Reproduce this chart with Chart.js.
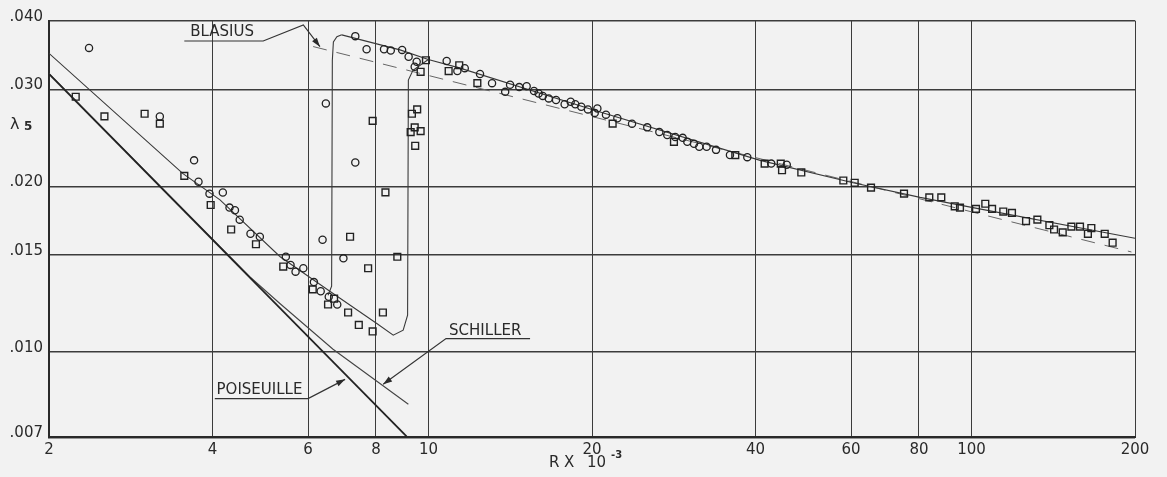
<!DOCTYPE html>
<html>
<head>
<meta charset="utf-8">
<script src="https://cdn.jsdelivr.net/npm/chart.js@4.4.1/dist/chart.umd.min.js"></script>
<style>
  html, body { margin: 0; background: #f2f2f2; }
  canvas { display: block; }
</style>
</head>
<body>
<canvas id="chart" width="1167" height="477"></canvas>
<script>
// tick values (R x 10^-3 and lambda)
const xTicks = [2, 4, 6, 8, 10, 20, 40, 60, 80, 100, 200];
const yTicks = [0.007, 0.010, 0.015, 0.020, 0.030, 0.040];
const yTickLabels = ['.007', '.010', '.015', '.020', '.030', '.040'];

// circles
const circleR = [2.37, 3.20, 3.70, 3.77, 3.95, 4.18, 4.30, 4.40, 4.49, 4.70, 4.89, 5.46, 5.57, 5.69, 5.88, 6.15, 6.33, 6.55, 6.79, 6.38,
  6.97, 7.33, 6.47, 7.33, 7.69, 8.28, 8.52, 8.94, 9.19, 9.51, 9.43, 10.8, 11.3, 11.66, 12.44, 13.09, 13.84, 14.13, 14.69, 15.16,
  15.64, 15.95, 16.23, 16.65, 17.17, 17.81, 18.27, 18.63, 19.11, 19.66, 20.23, 20.46, 21.22, 22.27, 23.70, 25.28, 26.61, 27.52, 28.47, 29.38,
  29.96, 30.82, 31.52, 32.52, 33.84, 35.90, 38.64, 42.77, 45.68];
const circleL = [0.0357, 0.0268, 0.0223, 0.0204, 0.0194, 0.0195, 0.0183, 0.0181, 0.0174, 0.0164, 0.0162, 0.0149, 0.0144, 0.0140, 0.0142, 0.0134, 0.0129, 0.0126, 0.0122, 0.0160,
  0.0148, 0.0221, 0.0283, 0.0375, 0.0355, 0.0355, 0.0353, 0.0354, 0.0344, 0.0337, 0.0330, 0.0338, 0.0324, 0.0328, 0.0320, 0.0308, 0.0297, 0.0306, 0.0303, 0.0304,
  0.0298, 0.0295, 0.0292, 0.0289, 0.0287, 0.0282, 0.0285, 0.0282, 0.0279, 0.0276, 0.0272, 0.0277, 0.0270, 0.0266, 0.0260, 0.0256, 0.0251, 0.0248, 0.0246, 0.0245,
  0.0241, 0.0239, 0.0236, 0.0236, 0.0233, 0.0228, 0.0226, 0.0220, 0.0219];

// squares
const squareR = [2.24, 2.53, 3.00, 3.20, 3.55, 3.97, 4.33, 4.81, 5.40, 6.12, 6.70, 6.53, 7.11, 8.24, 7.44, 7.89, 7.17, 7.74, 8.76, 8.33,
  7.89, 9.53, 9.32, 9.43, 9.27, 9.67, 9.45, 9.89, 9.67, 10.89, 11.39, 12.30, 21.83, 28.31, 36.72, 41.59, 44.53, 44.77, 48.58, 58.06,
  60.93, 65.29, 75.10, 83.60, 87.96, 93.12, 95.22, 101.9, 106.0, 109.1, 114.4, 118.7, 126.0, 132.2, 139.1, 141.9, 147.2, 152.7, 158.4, 163.8,
  166.2, 175.9, 181.9];
const squareL = [0.0291, 0.0268, 0.0271, 0.0260, 0.0209, 0.0185, 0.0167, 0.0157, 0.0143, 0.0130, 0.0125, 0.0122, 0.0118, 0.0118, 0.0112, 0.0109, 0.0162, 0.0142, 0.0149, 0.0195,
  0.0263, 0.0276, 0.0271, 0.0256, 0.0251, 0.0252, 0.0237, 0.0339, 0.0323, 0.0324, 0.0332, 0.0308, 0.0260, 0.0241, 0.0228, 0.0220, 0.0220, 0.0214, 0.0212, 0.0205,
  0.0203, 0.0199, 0.0194, 0.0191, 0.0191, 0.0184, 0.0183, 0.0182, 0.0186, 0.0182, 0.0180, 0.0179, 0.0173, 0.0174, 0.0170, 0.0167, 0.0165, 0.0169, 0.0169, 0.0164,
  0.0168, 0.0164, 0.0158];

// drawn curves
const lamR = [2.00, 3.53, 4.13, 5.33, 6.58, 8.03, 8.61, 8.98, 9.15, 9.18, 9.36, 9.99];
const lamL = [0.0349, 0.0211, 0.0189, 0.0149, 0.0129, 0.01127, 0.01073, 0.01096, 0.01167, 0.0312, 0.0325, 0.0340];
const loopR = [6.53, 6.63, 6.65, 6.68, 6.78, 6.92];
const loopL = [0.01268, 0.01317, 0.0339, 0.0366, 0.0374, 0.0377];
const fitR = [6.92, 8.86, 9.99, 11.43, 20.2, 40.8, 60.5, 80.4, 100.6, 200];
const fitL = [0.0377, 0.0354, 0.0340, 0.0328, 0.0275, 0.0223, 0.0203, 0.0191, 0.0183, 0.0161];
const blasiusR = [6.13, 197];
const blasiusL = [0.0359, 0.0152];
const poiseuilleR = [2.00, 9.11];
const poiseuilleL = [0.0320, 0.00703];
const schillerR = [2.00, 4.69, 5.33, 6.67, 9.18];
const schillerL = [0.0321, 0.01369, 0.01224, 0.01012, 0.00804];

const pts = (xs, ys) => xs.map((x, i) => ({ x: x, y: ys[i] }));

// labels with leader lines, positions in data units
const notes = [
  { text: 'BLASIUS', at: [3.64, 0.0381],
    leader: [[3.55, 0.03674], [4.96, 0.03674], [5.88, 0.03929], [6.31, 0.03588]] },
  { text: 'SCHILLER', at: [10.91, 0.01092],
    leader: [[15.38, 0.01058], [10.77, 0.01058], [8.25, 0.00874]] },
  { text: 'POISEUILLE', at: [4.07, 0.00852],
    leader: [[4.04, 0.00823], [6.00, 0.00823], [7.02, 0.00892]] }
];

const ink = '#2a2a2a';
const font = '"DejaVu Sans", "Liberation Sans", sans-serif';

function arrowHead(ctx, x0, y0, x1, y1) {
  const a = Math.atan2(y1 - y0, x1 - x0), L = 9, W = 3;
  ctx.beginPath();
  ctx.moveTo(x1, y1);
  ctx.lineTo(x1 - L * Math.cos(a) + W * Math.sin(a), y1 - L * Math.sin(a) - W * Math.cos(a));
  ctx.lineTo(x1 - L * Math.cos(a) - W * Math.sin(a), y1 - L * Math.sin(a) + W * Math.cos(a));
  ctx.closePath();
  ctx.fill();
}

const paperPlugin = {
  id: 'paper',
  beforeDraw(chart) {
    const ctx = chart.ctx;
    ctx.save();
    ctx.fillStyle = '#f2f2f2';
    ctx.fillRect(0, 0, chart.width, chart.height);
    ctx.restore();
  },
  afterDraw(chart) {
    const ctx = chart.ctx;
    const xs = chart.scales.x, ys = chart.scales.y;
    ctx.save();
    ctx.fillStyle = ink;
    ctx.strokeStyle = '#333';
    ctx.lineWidth = 1.2;
    ctx.textBaseline = 'middle';
    ctx.font = '15px ' + font;
    notes.forEach(n => {
      ctx.textAlign = 'left';
      ctx.fillText(n.text, xs.getPixelForValue(n.at[0]), ys.getPixelForValue(n.at[1]));
      const p = n.leader.map(q => [xs.getPixelForValue(q[0]), ys.getPixelForValue(q[1])]);
      ctx.beginPath();
      p.forEach((q, i) => i ? ctx.lineTo(q[0], q[1]) : ctx.moveTo(q[0], q[1]));
      ctx.stroke();
      const a = p[p.length - 2], b = p[p.length - 1];
      arrowHead(ctx, a[0], a[1], b[0], b[1]);
    });

    // axis titles
    ctx.font = '16px ' + font;
    ctx.fillText('\u03bb', 10, 125);
    ctx.font = 'bold 12px ' + font;
    ctx.fillText('5', 24, 127);
    ctx.font = '15px ' + font;
    ctx.fillText('R', 549, 463);
    ctx.fillText('X', 564, 463);
    ctx.fillText('10', 587, 463);
    ctx.font = 'bold 10px ' + font;
    ctx.fillText('-3', 611, 455);
    ctx.restore();
  }
};

new Chart(document.getElementById('chart'), {
  type: 'scatter',
  data: {
    datasets: [
      { data: pts(circleR, circleL), pointStyle: 'circle', pointRadius: 3.6, borderWidth: 1.3,
        borderColor: '#222', backgroundColor: 'rgba(0,0,0,0)' },
      { data: pts(squareR, squareL), pointStyle: 'rect', pointRadius: 4.8, borderWidth: 1.4,
        borderColor: '#222', backgroundColor: 'rgba(0,0,0,0)' },
      { data: pts(lamR, lamL), showLine: true, pointRadius: 0, borderColor: '#3a3a3a', borderWidth: 1.1 },
      { data: pts(loopR, loopL), showLine: true, pointRadius: 0, borderColor: '#3a3a3a', borderWidth: 1.1 },
      { data: pts(fitR, fitL), showLine: true, pointRadius: 0, borderColor: '#3a3a3a', borderWidth: 1.1 },
      { data: pts(blasiusR, blasiusL), showLine: true, pointRadius: 0, borderColor: '#666', borderWidth: 1,
        borderDash: [14, 10] },
      { data: pts(poiseuilleR, poiseuilleL), showLine: true, pointRadius: 0, borderColor: '#222', borderWidth: 1.8 },
      { data: pts(schillerR, schillerL), showLine: true, pointRadius: 0, borderColor: '#444', borderWidth: 1.1 }
    ]
  },
  options: {
    responsive: false,
    animation: false,
    devicePixelRatio: 1,
    layout: { padding: { top: 20.7, right: 32, left: 0, bottom: 0 } },
    plugins: { legend: { display: false }, tooltip: { enabled: false } },
    scales: {
      x: {
        type: 'logarithmic', min: 2, max: 200,
        afterBuildTicks: s => { s.ticks = xTicks.map(v => ({ value: v })); },
        afterFit: s => { s.height = 39.7; },
        ticks: { autoSkip: false, maxRotation: 0, padding: 4, color: ink,
          font: { family: font, size: 15 }, callback: v => String(v) },
        grid: { color: '#3c3c3c', lineWidth: 1, drawTicks: false },
        border: { color: '#2a2a2a', width: 2 }
      },
      y: {
        type: 'logarithmic', min: 0.007, max: 0.040,
        afterBuildTicks: s => { s.ticks = yTicks.map(v => ({ value: v })); },
        afterFit: s => { s.width = 49; },
        ticks: { autoSkip: false, padding: 6, labelOffset: -4, color: ink,
          font: { family: font, size: 15 },
          callback: v => yTickLabels[yTicks.findIndex(t => Math.abs(t - v) < 1e-9)] },
        grid: { color: '#3c3c3c', lineWidth: 1.6, drawTicks: false },
        border: { color: '#2a2a2a', width: 2 }
      }
    }
  },
  plugins: [paperPlugin]
});
</script>
</body>
</html>
